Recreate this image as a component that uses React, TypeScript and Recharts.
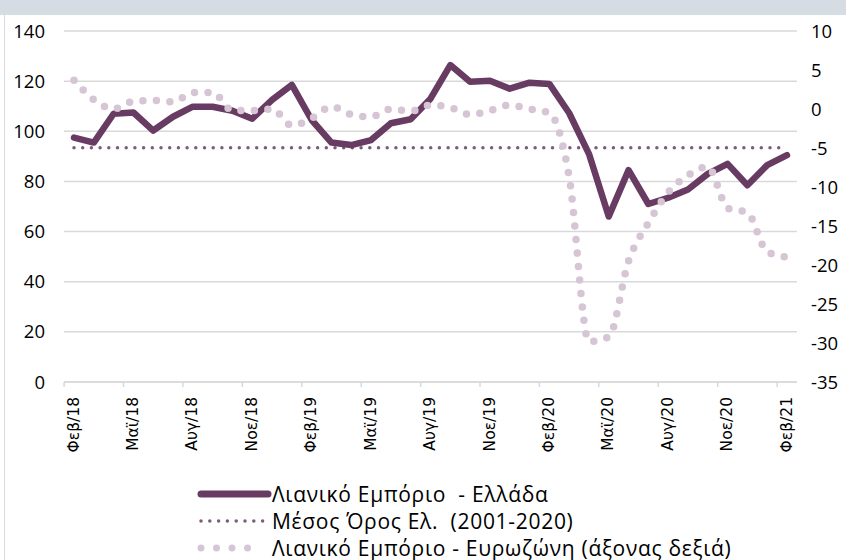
import { LineChart, Line, XAxis, YAxis, CartesianGrid, Legend } from "recharts"

const MONTHS = [
  "Φεβ/18", "Μαρ/18", "Απρ/18", "Μαϊ/18", "Ιουν/18", "Ιουλ/18", "Αυγ/18", "Σεπ/18", "Οκτ/18", "Νοε/18", "Δεκ/18", "Ιαν/19",
  "Φεβ/19", "Μαρ/19", "Απρ/19", "Μαϊ/19", "Ιουν/19", "Ιουλ/19", "Αυγ/19", "Σεπ/19", "Οκτ/19", "Νοε/19", "Δεκ/19", "Ιαν/20",
  "Φεβ/20", "Μαρ/20", "Απρ/20", "Μαϊ/20", "Ιουν/20", "Ιουλ/20", "Αυγ/20", "Σεπ/20", "Οκτ/20", "Νοε/20", "Δεκ/20", "Ιαν/21",
  "Φεβ/21",
]

// Λιανικό Εμπόριο - Ελλάδα (left axis)
const GREECE = [
  97.5, 95.5, 107, 107.5, 100.3, 105.8, 109.8, 109.8, 108.2, 105, 112.5, 118.5,
  104.5, 95.5, 94.5, 96.5, 103.2, 104.8, 113, 126.4, 119.8, 120.2, 117, 119.4,
  118.9, 107.3, 91, 66, 84.5, 71, 73.5, 76.8, 83, 87, 78.5, 86.5,
  90.5,
]

// Μέσος Όρος Ελ. (2001-2020)
const GREECE_AVG = 93.4

// Λιανικό Εμπόριο - Ευρωζώνη (right axis)
const EUROZONE = [
  3.7, 1.2, 0.0, 1.0, 1.1, 0.9, 2.1, 2.1, -0.2, -0.2, 0.0, -2.1,
  -1.2, 0.3, -0.7, -1.0, 0.0, -0.3, 0.5, 0.2, -0.7, -0.2, 0.5, 0.0,
  -0.5, -8.7, -29.8, -29.2, -19.5, -14.6, -10.7, -8.5, -7.4, -12.7, -13.3, -18.3,
  -19.0,
]

const LEFT_TICKS = [0, 20, 40, 60, 80, 100, 120, 140]
const RIGHT_TICKS = [-35, -30, -25, -20, -15, -10, -5, 0, 5, 10]

const NAMES = {
  gr: "Λιανικό Εμπόριο  - Ελλάδα",
  avg: "Μέσος Όρος Ελ.  (2001-2020)",
  ez: "Λιανικό Εμπόριο - Ευρωζώνη (άξονας δεξιά)",
}

const C_GR = "#683b63"
const C_AVG = "#7e5a7c"
const C_EZ = "#d6c5d4"
const GRID = "#d9d9d9"

const data = MONTHS.map((m, i) => ({
  month: m,
  gr: GREECE[i],
  avg: GREECE_AVG,
  ez: EUROZONE[i],
}))

const HALF_STEP = 9.9

function MonthTick({ x, y, payload }: any) {
  return (
    <g>
      <line x1={x - HALF_STEP} x2={x - HALF_STEP} y1={y} y2={y + 5} stroke={GRID} strokeWidth={1.5} />
      <text
        transform={`translate(${x - 1},${y + 15}) rotate(-90)`}
        textAnchor="end"
        dy="0.36em"
        fontFamily="DejaVu Sans"
        fontSize={15.5}
        fill="#000"
      >
        {payload.value}
      </text>
    </g>
  )
}

function LegendBox() {
  const row = { display: "flex", alignItems: "center", height: 27, whiteSpace: "pre" as const }
  return (
    <div
      style={{
        height: 100,
        paddingTop: 20,
        boxSizing: "border-box",
        paddingLeft: 197,
        fontFamily: "Open Sans",
        fontSize: 21,
        letterSpacing: 0.7,
        color: "#000",
      }}
    >
      <div style={row}>
        <svg width={75} height={12}>
          <line x1={4} x2={71} y1={6} y2={6} stroke={C_GR} strokeWidth={7} strokeLinecap="round" />
        </svg>
        <span>{NAMES.gr}</span>
      </div>
      <div style={row}>
        <svg width={75} height={12}>
          <line x1={4} x2={66} y1={6} y2={6} stroke={C_AVG} strokeWidth={3.5} strokeLinecap="round" strokeDasharray="0 8.8" />
        </svg>
        <span>{NAMES.avg}</span>
      </div>
      <div style={row}>
        <svg width={75} height={12}>
          <line x1={4} x2={66} y1={6} y2={6} stroke={C_EZ} strokeWidth={7} strokeLinecap="round" strokeDasharray="0 15.5" />
        </svg>
        <span>{NAMES.ez}</span>
      </div>
    </div>
  )
}

export default function App() {
  return (
    <div style={{ position: "relative", width: 846, height: 560, background: "#fff", overflow: "hidden" }}>
      <style>{"body{margin:0}"}</style>
      <div style={{ position: "absolute", left: 0, top: 0, width: 846, height: 15, background: "#d6dce4" }} />
      <div style={{ position: "absolute", left: 4, top: 15, width: 1, height: 545, background: GRID }} />
      <div style={{ position: "absolute", left: 0, top: 0 }}>
        <LineChart width={846} height={560} data={data} margin={{ top: 31, right: 0, left: 0, bottom: 0 }}>
          <CartesianGrid yAxisId="left" vertical={false} stroke={GRID} strokeWidth={1.5} />
          <XAxis
            dataKey="month"
            interval={2}
            padding={{ left: 10, right: 10 }}
            height={78}
            tickSize={0}
            tickMargin={0}
            tickLine={false}
            axisLine={{ stroke: GRID, strokeWidth: 1.5 }}
            tick={<MonthTick />}
          />
          <YAxis
            yAxisId="left"
            domain={[0, 140]}
            ticks={LEFT_TICKS}
            width={64}
            axisLine={false}
            tickLine={false}
            tickSize={0}
            tickMargin={19}
            tick={{ fontFamily: "Open Sans", fontSize: 18.5, fill: "#000" }}
          />
          <YAxis
            yAxisId="right"
            orientation="right"
            domain={[-35, 10]}
            ticks={RIGHT_TICKS}
            width={49}
            axisLine={false}
            tickLine={false}
            tickSize={0}
            tickMargin={14}
            tick={{ fontFamily: "Open Sans", fontSize: 18.5, fill: "#000", textAnchor: "start" }}
          />
          <Legend verticalAlign="bottom" height={100} content={<LegendBox />} />
          <Line
            yAxisId="left"
            dataKey="avg"
            name={NAMES.avg}
            stroke={C_AVG}
            strokeWidth={3.5}
            strokeLinecap="round"
            strokeDasharray="0 8.7"
            dot={false}
            activeDot={false}
            isAnimationActive={false}
          />
          <Line
            yAxisId="left"
            type="linear"
            dataKey="gr"
            name={NAMES.gr}
            stroke={C_GR}
            strokeWidth={6.5}
            strokeLinejoin="round"
            strokeLinecap="round"
            dot={false}
            activeDot={false}
            isAnimationActive={false}
          />
          <Line
            yAxisId="right"
            type="monotone"
            dataKey="ez"
            name={NAMES.ez}
            stroke={C_EZ}
            strokeWidth={7.5}
            strokeLinecap="round"
            strokeDasharray="0 13.5"
            dot={false}
            activeDot={false}
            isAnimationActive={false}
          />
        </LineChart>
      </div>
    </div>
  )
}
